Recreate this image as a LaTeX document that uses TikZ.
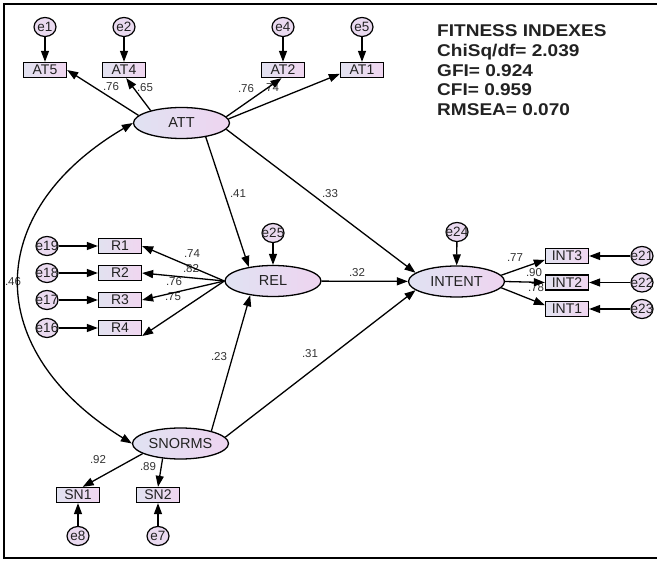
\documentclass[tikz,border=0pt]{standalone}
\usepackage{fontspec}
\setmainfont{Liberation Sans}
\newfontfamily\fitfont[FakeStretch=1.12]{Liberation Sans}
\usetikzlibrary{arrows.meta,shapes.geometric}
\definecolor{latl}{HTML}{E0E2F2}
\definecolor{latr}{HTML}{EED4F0}
\definecolor{obsl}{HTML}{E2E2F0}
\definecolor{obsr}{HTML}{F0D6F0}
\definecolor{errc}{HTML}{EADAF0}
\definecolor{coefc}{HTML}{333333}
\definecolor{txtc}{HTML}{222222}
\begin{document}
\begin{tikzpicture}[x=1pt,y=-1pt,
  lat/.style={ellipse,draw,line width=1.3pt,minimum width=96pt,minimum height=31pt,inner sep=0pt,left color=latl,right color=latr,text=txtc,font=\fontsize{14.5}{16}\selectfont},
  obs/.style={rectangle,draw,line width=1.3pt,minimum width=43pt,minimum height=15pt,inner sep=0pt,left color=obsl,right color=obsr,text=txtc,font=\fontsize{14}{15}\selectfont},
  err/.style={ellipse,draw,line width=1.2pt,minimum width=22pt,minimum height=19pt,inner sep=0pt,fill=errc},
  errtxt/.style={inner sep=0pt,text=txtc,font=\fontsize{13.5}{15}\selectfont},
  arr/.style={-{Triangle[length=11pt,width=8pt]},line width=1.3pt},
  dbl/.style={{Triangle[length=11pt,width=8pt]}-{Triangle[length=11pt,width=8pt]},line width=1.3pt},
  coef/.style={font=\fontsize{11.5}{13}\selectfont,text=coefc,inner sep=0pt},
  fit/.style={anchor=base west,inner sep=0pt,text=txtc,font=\fitfont\bfseries\fontsize{17}{20}\selectfont},
]
\useasboundingbox (0,0) rectangle (657,561);
\fill[white] (0,0) rectangle (657,561);
\draw[line width=1.6pt] (657,4) -- (4,4) -- (4,558) -- (657,558);

% coefficient labels (drawn first so arrowheads may cover them)
\node[coef] (c1) at (111,87) {.76};
\node[coef] (c2) at (145,88) {.65};
\node[coef] (c3) at (246,89) {.76};
\node[coef] (c4) at (271,88) {.74};
\node[coef] (c5) at (238,194) {.41};
\node[coef] (c6) at (330,194) {.33};
\node[coef] (c7) at (13,282) {.46};
\node[coef] (c8) at (192,254) {.74};
\node[coef] (c9) at (191,269) {.82};
\node[coef] (c10) at (174,282) {.76};
\node[coef] (c11) at (173,297) {.75};
\node[coef] (c12) at (219,357) {.23};
\node[coef] (c13) at (310,354) {.31};
\node[coef] (c14) at (357,273) {.32};
\node[coef] (c15) at (515,258) {.77};
\node[coef] (c16) at (534,273) {.90};
\node[coef] (c17) at (536,288) {.78};
\node[coef] (c18) at (98,460) {.92};
\node[coef] (c19) at (148,467) {.89};

% fitness indexes
\node[fit] (f1) at (437,36.5) {FITNESS INDEXES};
\node[fit] (f2) at (437,56.5) {ChiSq/df= 2.039};
\node[fit] (f3) at (437,76.5) {GFI= 0.924};
\node[fit] (f4) at (437,96) {CFI= 0.959};
\node[fit] (f5) at (437,115.5) {RMSEA= 0.070};

% latent variables
\node[lat] (ATT) at (181.5,123) {ATT};
\node[lat] (REL) at (273,281) {REL};
\node[lat] (INTENT) at (456.5,281.5) {INTENT};
\node[lat] (SNORMS) at (180.5,443.5) {SNORMS};

% observed variables
\node[obs] (AT5) at (45,70) {AT5};
\node[obs] (AT4) at (124,70) {AT4};
\node[obs] (AT2) at (283,70) {AT2};
\node[obs] (AT1) at (362,70) {AT1};
\node[obs] (R1) at (120,246) {R1};
\node[obs] (R2) at (120,273) {R2};
\node[obs] (R3) at (120,300) {R3};
\node[obs] (R4) at (120,328) {R4};
\node[obs] (INT3) at (567,256) {INT3};
\node[obs] (INT2) at (567,282.5) {INT2};
\node[obs] (INT1) at (567,309) {INT1};
\node[obs] (SN1) at (78,495) {SN1};
\node[obs] (SN2) at (158,495) {SN2};

% error terms
\node[err,label={[errtxt]center:e1}] (e1) at (45,27) {};
\node[err,label={[errtxt]center:e2}] (e2) at (124,27) {};
\node[err,label={[errtxt]center:e4}] (e4) at (283,27) {};
\node[err,label={[errtxt]center:e5}] (e5) at (362,27) {};
\node[err,label={[errtxt]center:e19}] (e19) at (47,246) {};
\node[err,label={[errtxt]center:e18}] (e18) at (47,273) {};
\node[err,label={[errtxt]center:e17}] (e17) at (47,300) {};
\node[err,label={[errtxt]center:e16}] (e16) at (47,328) {};
\node[err,label={[errtxt]center:e25}] (e25) at (273,233) {};
\node[err,label={[errtxt]center:e24}] (e24) at (457,232) {};
\node[err,label={[errtxt]center:e21}] (e21) at (642,256) {};
\node[err,label={[errtxt]center:e22}] (e22) at (642,282.5) {};
\node[err,label={[errtxt]center:e23}] (e23) at (642,309) {};
\node[err,label={[errtxt]center:e8}] (e8) at (78,536) {};
\node[err,label={[errtxt]center:e7}] (e7) at (158,536) {};

% error arrows
\draw[arr] (e1) -- (AT5);
\draw[arr] (e2) -- (AT4);
\draw[arr] (e4) -- (AT2);
\draw[arr] (e5) -- (AT1);
\draw[arr] (e19) -- (R1);
\draw[arr] (e18) -- (R2);
\draw[arr] (e17) -- (R3);
\draw[arr] (e16) -- (R4);
\draw[arr] (e25) -- (REL);
\draw[arr] (e24) -- (INTENT);
\draw[arr] (e21) -- (INT3);
\draw[arr] (e22) -- (INT2);
\draw[arr] (e23) -- (INT1);
\draw[arr] (e8) -- (SN1);
\draw[arr] (e7) -- (SN2);

% loadings
\draw[arr] (ATT.170) -- (AT5.east);
\draw[arr] (ATT.158) -- (AT4.-75);
\draw[arr] (ATT.8) -- (AT2.-100);
\draw[arr] (ATT.5) -- (AT1.190);
\draw[arr] (REL.west) -- (R1.east);
\draw[arr] (REL.west) -- (R2.east);
\draw[arr] (REL.west) -- (R3.east);
\draw[arr] (REL.west) -- (R4.-20);
\draw[arr] (INTENT.8) -- (INT3.190);
\draw[arr] (INTENT.east) -- (INT2.west);
\draw[arr] (INTENT.-8) -- (INT1.170);
\draw[arr] (SNORMS.195) -- (SN1.60);
\draw[arr] (SNORMS.-140) -- (SN2.north);

% structural paths
\draw[arr] (ATT.-30) -- (REL.150);
\draw[arr] (ATT.-8) -- (INTENT.168);
\draw[arr] (REL) -- (INTENT);
\draw[arr] (SNORMS.22) -- (REL.-148);
\draw[arr] (SNORMS.8) -- (INTENT.-168);

% covariance
\draw[dbl] (ATT.west) .. controls (-18,212) and (-18,351) .. (SNORMS.west);
\end{tikzpicture}
\end{document}
